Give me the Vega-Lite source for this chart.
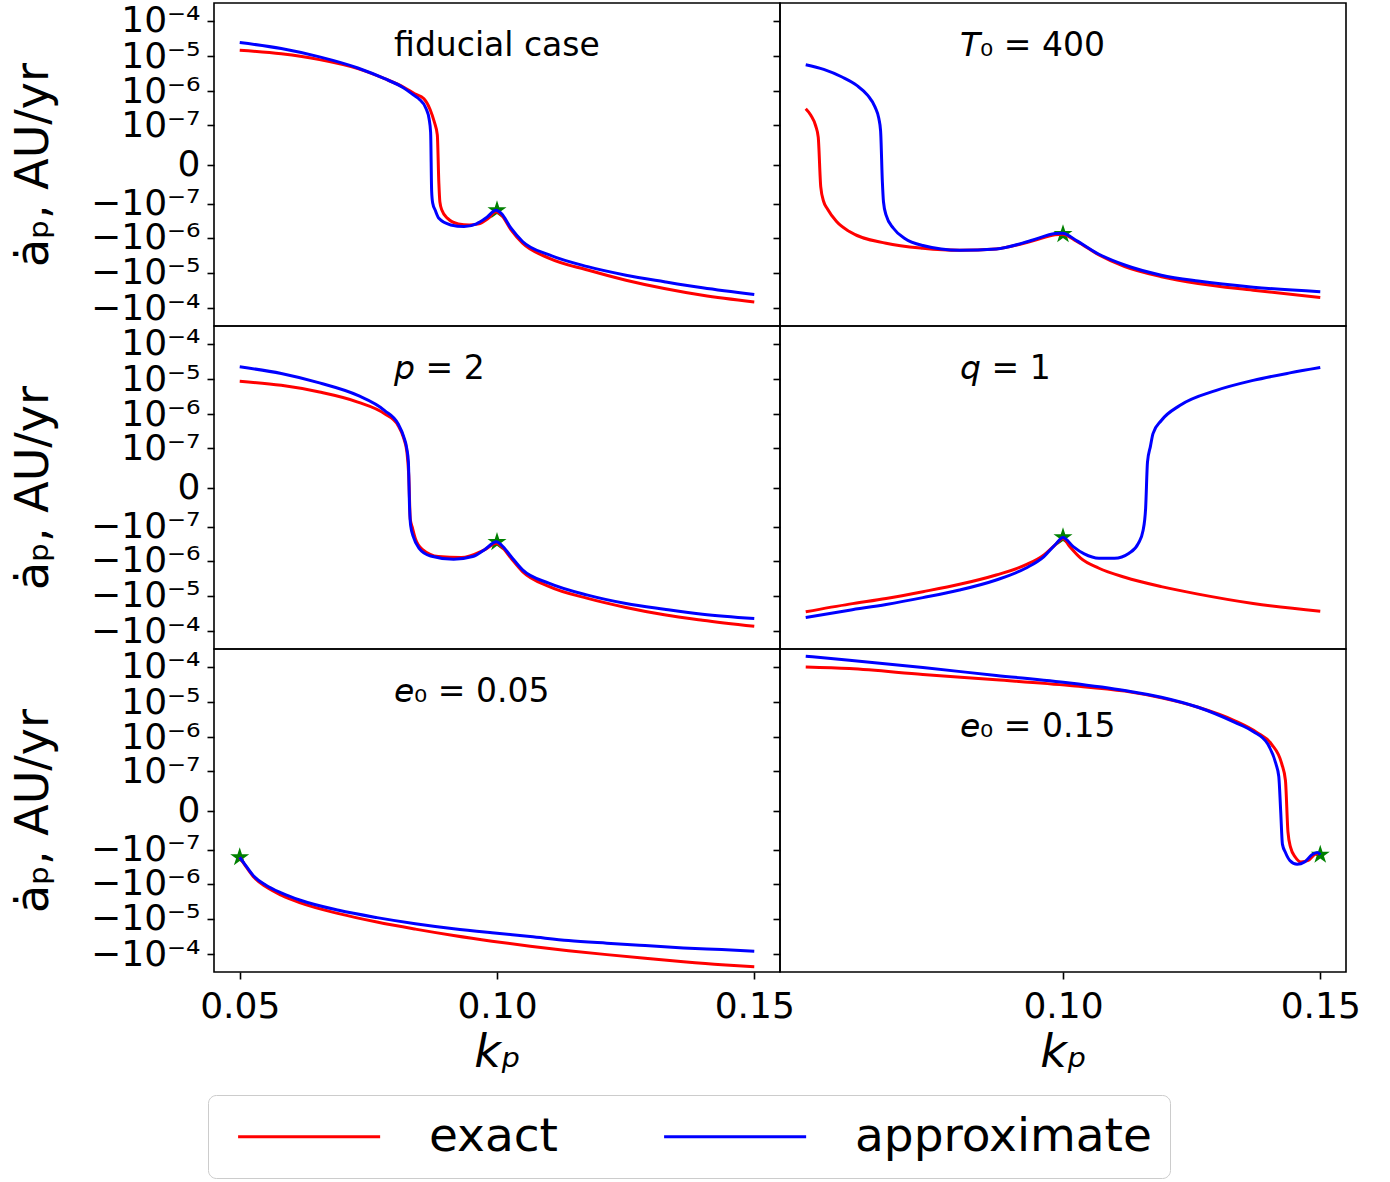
{
  "$schema": "https://vega.github.io/schema/vega-lite/v6.json",
  "padding": {"left": 9, "top": 2, "right": 30, "bottom": 2},
  "background": "white",
  "config": {
    "font": "DejaVu Sans",
    "view": {"stroke": "black", "strokeWidth": 1.6},
    "axis": {"grid": false, "domain": false, "tickColor": "black", "tickWidth": 1.6, "tickSize": 7, "labelColor": "black", "titleColor": "black", "labelFontSize": 36, "titleFontSize": 46, "titleFontWeight": "normal", "labelOverlap": false, "labelFlush": false, "labelFont": "DejaVu Sans", "titleFont": "DejaVu Sans"},
    "legend": {"labelFont": "DejaVu Sans", "labelFontSize": 47, "labelColor": "black", "symbolStrokeWidth": 3, "strokeColor": "#cccccc", "fillColor": "white", "cornerRadius": 8, "labelLimit": 0}
  },
  "datasets": {
    "fid": [
      {"series": "exact", "kp": 0.05, "adot": 1.47e-5}, {"series": "exact", "kp": 0.05807, "adot": 1.16e-5}, {"series": "exact", "kp": 0.0655, "adot": 7.94e-6}, {"series": "exact", "kp": 0.07295, "adot": 4.4e-6}, {"series": "exact", "kp": 0.07817, "adot": 2.28e-6}, {"series": "exact", "kp": 0.08188, "adot": 1.3e-6}, {"series": "exact", "kp": 0.0840, "adot": 8.5e-7}, {"series": "exact", "kp": 0.0858, "adot": 6.1e-7}, {"series": "exact", "kp": 0.0870, "adot": 3.0e-7}, {"series": "exact", "kp": 0.0878, "adot": 1.3e-7}, {"series": "exact", "kp": 0.0884, "adot": 5e-8}, {"series": "exact", "kp": 0.0887, "adot": -2e-8}, {"series": "exact", "kp": 0.0889, "adot": -9e-8}, {"series": "exact", "kp": 0.0893, "adot": -1.6e-7}, {"series": "exact", "kp": 0.0904, "adot": -2.77e-7}, {"series": "exact", "kp": 0.0925, "adot": -4.0e-7}, {"series": "exact", "kp": 0.0946, "adot": -4.3e-7}, {"series": "exact", "kp": 0.0965, "adot": -4.0e-7}, {"series": "exact", "kp": 0.0983, "adot": -2.77e-7}, {"series": "exact", "kp": 0.0998, "adot": -1.78e-7}, {"series": "exact", "kp": 0.10087, "adot": -2.23e-7}, {"series": "exact", "kp": 0.10273, "adot": -5.98e-7}, {"series": "exact", "kp": 0.10497, "adot": -1.44e-6}, {"series": "exact", "kp": 0.11018, "adot": -3.85e-6}, {"series": "exact", "kp": 0.11762, "adot": -8.3e-6}, {"series": "exact", "kp": 0.12506, "adot": -1.61e-5}, {"series": "exact", "kp": 0.13251, "adot": -2.77e-5}, {"series": "exact", "kp": 0.13994, "adot": -4.3e-5}, {"series": "exact", "kp": 0.15, "adot": -6.65e-5},
      {"series": "approximate", "kp": 0.05, "adot": 2.43e-5}, {"series": "approximate", "kp": 0.05807, "adot": 1.64e-5}, {"series": "approximate", "kp": 0.0655, "adot": 9.5e-6}, {"series": "approximate", "kp": 0.07295, "adot": 4.6e-6}, {"series": "approximate", "kp": 0.07817, "adot": 2.28e-6}, {"series": "approximate", "kp": 0.08188, "adot": 1.25e-6}, {"series": "approximate", "kp": 0.0838, "adot": 7.8e-7}, {"series": "approximate", "kp": 0.0848, "adot": 6.1e-7}, {"series": "approximate", "kp": 0.0862, "adot": 3.2e-7}, {"series": "approximate", "kp": 0.0868, "adot": 1.6e-7}, {"series": "approximate", "kp": 0.0871, "adot": 6e-8}, {"series": "approximate", "kp": 0.0873, "adot": -4e-8}, {"series": "approximate", "kp": 0.0875, "adot": -9.7e-8}, {"series": "approximate", "kp": 0.0880, "adot": -1.6e-7}, {"series": "approximate", "kp": 0.0887, "adot": -2.77e-7}, {"series": "approximate", "kp": 0.0910, "adot": -4.3e-7}, {"series": "approximate", "kp": 0.0936, "adot": -4.8e-7}, {"series": "approximate", "kp": 0.0960, "adot": -4.0e-7}, {"series": "approximate", "kp": 0.0980, "adot": -2.6e-7}, {"series": "approximate", "kp": 0.0998, "adot": -1.61e-7}, {"series": "approximate", "kp": 0.10087, "adot": -2.0e-7}, {"series": "approximate", "kp": 0.10273, "adot": -5.35e-7}, {"series": "approximate", "kp": 0.10497, "adot": -1.28e-6}, {"series": "approximate", "kp": 0.11018, "adot": -3.1e-6}, {"series": "approximate", "kp": 0.11762, "adot": -6.65e-6}, {"series": "approximate", "kp": 0.12506, "adot": -1.16e-5}, {"series": "approximate", "kp": 0.13251, "adot": -1.78e-5}, {"series": "approximate", "kp": 0.13994, "adot": -2.65e-5}, {"series": "approximate", "kp": 0.15, "adot": -4.11e-5}
    ],
    "t0": [
      {"series": "exact", "kp": 0.05, "adot": 3.16e-7}, {"series": "exact", "kp": 0.05099, "adot": 2.04e-7}, {"series": "exact", "kp": 0.05193, "adot": 9.8e-8}, {"series": "exact", "kp": 0.05243, "adot": 4.2e-8}, {"series": "exact", "kp": 0.05292, "adot": -2.8e-8}, {"series": "exact", "kp": 0.0535, "adot": -8.8e-8}, {"series": "exact", "kp": 0.0542, "adot": -1.44e-7}, {"series": "exact", "kp": 0.05599, "adot": -3.44e-7}, {"series": "exact", "kp": 0.05848, "adot": -6.65e-7}, {"series": "exact", "kp": 0.06562, "adot": -1.44e-6}, {"series": "exact", "kp": 0.07276, "adot": -2.0e-6}, {"series": "exact", "kp": 0.0799, "adot": -2.28e-6}, {"series": "exact", "kp": 0.08702, "adot": -2.09e-6}, {"series": "exact", "kp": 0.09415, "adot": -1.23e-6}, {"series": "exact", "kp": 0.09843, "adot": -8.2e-7}, {"series": "exact", "kp": 0.0999, "adot": -7.9e-7}, {"series": "exact", "kp": 0.10271, "adot": -1.28e-6}, {"series": "exact", "kp": 0.10699, "adot": -3.1e-6}, {"series": "exact", "kp": 0.11199, "adot": -6.65e-6}, {"series": "exact", "kp": 0.11911, "adot": -1.28e-5}, {"series": "exact", "kp": 0.12625, "adot": -2.0e-5}, {"series": "exact", "kp": 0.13695, "adot": -3.1e-5}, {"series": "exact", "kp": 0.15, "adot": -5.0e-5},
      {"series": "approximate", "kp": 0.05, "adot": 5.7e-6}, {"series": "approximate", "kp": 0.0535, "adot": 4.2e-6}, {"series": "approximate", "kp": 0.05706, "adot": 2.55e-6}, {"series": "approximate", "kp": 0.05992, "adot": 1.47e-6}, {"series": "approximate", "kp": 0.06206, "adot": 7.6e-7}, {"series": "approximate", "kp": 0.06348, "adot": 3.5e-7}, {"series": "approximate", "kp": 0.0642, "adot": 1.64e-7}, {"series": "approximate", "kp": 0.06455, "adot": 6.75e-8}, {"series": "approximate", "kp": 0.0649, "adot": -1.9e-8}, {"series": "approximate", "kp": 0.06511, "adot": -8.8e-8}, {"series": "approximate", "kp": 0.06562, "adot": -2.23e-7}, {"series": "approximate", "kp": 0.06704, "adot": -5.35e-7}, {"series": "approximate", "kp": 0.06918, "adot": -1.03e-6}, {"series": "approximate", "kp": 0.07276, "adot": -1.67e-6}, {"series": "approximate", "kp": 0.0799, "adot": -2.28e-6}, {"series": "approximate", "kp": 0.08702, "adot": -2.09e-6}, {"series": "approximate", "kp": 0.09415, "adot": -1.16e-6}, {"series": "approximate", "kp": 0.09843, "adot": -7.6e-7}, {"series": "approximate", "kp": 0.0999, "adot": -7.4e-7}, {"series": "approximate", "kp": 0.10271, "adot": -1.23e-6}, {"series": "approximate", "kp": 0.10699, "adot": -2.96e-6}, {"series": "approximate", "kp": 0.11199, "adot": -5.98e-6}, {"series": "approximate", "kp": 0.11911, "adot": -1.16e-5}, {"series": "approximate", "kp": 0.12625, "adot": -1.71e-5}, {"series": "approximate", "kp": 0.13695, "adot": -2.55e-5}, {"series": "approximate", "kp": 0.15, "adot": -3.44e-5}
    ],
    "p2": [
      {"series": "exact", "kp": 0.05, "adot": 8.65e-6}, {"series": "exact", "kp": 0.05807, "adot": 6.65e-6}, {"series": "exact", "kp": 0.0655, "adot": 4.3e-6}, {"series": "exact", "kp": 0.07295, "adot": 2.23e-6}, {"series": "exact", "kp": 0.07817, "adot": 1.03e-6}, {"series": "exact", "kp": 0.08077, "adot": 4.79e-7}, {"series": "exact", "kp": 0.08188, "adot": 2.0e-7}, {"series": "exact", "kp": 0.08248, "adot": 8e-8}, {"series": "exact", "kp": 0.08285, "adot": 1e-8}, {"series": "exact", "kp": 0.08315, "adot": -5.9e-8}, {"series": "exact", "kp": 0.08353, "adot": -1.05e-7}, {"series": "exact", "kp": 0.08412, "adot": -2.27e-7}, {"series": "exact", "kp": 0.08561, "adot": -4.9e-7}, {"series": "exact", "kp": 0.08859, "adot": -7.6e-7}, {"series": "exact", "kp": 0.09305, "adot": -8.1e-7}, {"series": "exact", "kp": 0.09752, "adot": -4.9e-7}, {"series": "exact", "kp": 0.0999, "adot": -3.16e-7}, {"series": "exact", "kp": 0.10087, "adot": -3.93e-7}, {"series": "exact", "kp": 0.10273, "adot": -8.5e-7}, {"series": "exact", "kp": 0.10497, "adot": -2.04e-6}, {"series": "exact", "kp": 0.11018, "adot": -5.46e-6}, {"series": "exact", "kp": 0.11762, "adot": -1.18e-5}, {"series": "exact", "kp": 0.12506, "adot": -2.13e-5}, {"series": "exact", "kp": 0.13251, "adot": -3.44e-5}, {"series": "exact", "kp": 0.13994, "adot": -4.9e-5}, {"series": "exact", "kp": 0.15, "adot": -7.3e-5},
      {"series": "approximate", "kp": 0.05, "adot": 2.23e-5}, {"series": "approximate", "kp": 0.05807, "adot": 1.44e-5}, {"series": "approximate", "kp": 0.0655, "adot": 7.8e-6}, {"series": "approximate", "kp": 0.07295, "adot": 3.44e-6}, {"series": "approximate", "kp": 0.07817, "adot": 1.28e-6}, {"series": "approximate", "kp": 0.08077, "adot": 5.35e-7}, {"series": "approximate", "kp": 0.08188, "adot": 2.23e-7}, {"series": "approximate", "kp": 0.08248, "adot": 9.7e-8}, {"series": "approximate", "kp": 0.08278, "adot": 3.6e-8}, {"series": "approximate", "kp": 0.08301, "adot": -2.4e-8}, {"series": "approximate", "kp": 0.08322, "adot": -9.4e-8}, {"series": "approximate", "kp": 0.08375, "adot": -2.04e-7}, {"series": "approximate", "kp": 0.08486, "adot": -4.4e-7}, {"series": "approximate", "kp": 0.08709, "adot": -7.3e-7}, {"series": "approximate", "kp": 0.09157, "adot": -9.06e-7}, {"series": "approximate", "kp": 0.09528, "adot": -7.6e-7}, {"series": "approximate", "kp": 0.09752, "adot": -4.9e-7}, {"series": "approximate", "kp": 0.0999, "adot": -2.83e-7}, {"series": "approximate", "kp": 0.10087, "adot": -3.54e-7}, {"series": "approximate", "kp": 0.10273, "adot": -7.6e-7}, {"series": "approximate", "kp": 0.10497, "adot": -1.83e-6}, {"series": "approximate", "kp": 0.11018, "adot": -4.4e-6}, {"series": "approximate", "kp": 0.11762, "adot": -9.5e-6}, {"series": "approximate", "kp": 0.12506, "adot": -1.64e-5}, {"series": "approximate", "kp": 0.13251, "adot": -2.38e-5}, {"series": "approximate", "kp": 0.13994, "adot": -3.31e-5}, {"series": "approximate", "kp": 0.15, "adot": -4.4e-5}
    ],
    "q1": [
      {"series": "exact", "kp": 0.05, "adot": -2.82e-5}, {"series": "exact", "kp": 0.05848, "adot": -1.71e-5}, {"series": "exact", "kp": 0.06562, "adot": -1.18e-5}, {"series": "exact", "kp": 0.07276, "adot": -7.6e-6}, {"series": "exact", "kp": 0.0799, "adot": -4.7e-6}, {"series": "exact", "kp": 0.08702, "adot": -2.55e-6}, {"series": "exact", "kp": 0.09273, "adot": -1.32e-6}, {"series": "exact", "kp": 0.0963, "adot": -6.8e-7}, {"series": "exact", "kp": 0.09843, "adot": -3.54e-7}, {"series": "exact", "kp": 0.1, "adot": -2.27e-7}, {"series": "exact", "kp": 0.1013, "adot": -3.93e-7}, {"series": "exact", "kp": 0.10343, "adot": -8.5e-7}, {"series": "exact", "kp": 0.10699, "adot": -1.64e-6}, {"series": "exact", "kp": 0.11199, "adot": -2.96e-6}, {"series": "exact", "kp": 0.11911, "adot": -5.46e-6}, {"series": "exact", "kp": 0.12625, "adot": -8.9e-6}, {"series": "exact", "kp": 0.13695, "adot": -1.64e-5}, {"series": "exact", "kp": 0.15, "adot": -2.72e-5},
      {"series": "approximate", "kp": 0.05, "adot": -4.11e-5}, {"series": "approximate", "kp": 0.05848, "adot": -2.55e-5}, {"series": "approximate", "kp": 0.06562, "adot": -1.75e-5}, {"series": "approximate", "kp": 0.07276, "adot": -1.12e-5}, {"series": "approximate", "kp": 0.0799, "adot": -6.82e-6}, {"series": "approximate", "kp": 0.08702, "adot": -3.54e-6}, {"series": "approximate", "kp": 0.09273, "adot": -1.64e-6}, {"series": "approximate", "kp": 0.0963, "adot": -7.6e-7}, {"series": "approximate", "kp": 0.09843, "adot": -3.54e-7}, {"series": "approximate", "kp": 0.1, "adot": -2.13e-7}, {"series": "approximate", "kp": 0.10199, "adot": -3.93e-7}, {"series": "approximate", "kp": 0.10413, "adot": -6.4e-7}, {"series": "approximate", "kp": 0.10699, "adot": -8.5e-7}, {"series": "approximate", "kp": 0.11, "adot": -8.5e-7}, {"series": "approximate", "kp": 0.11284, "adot": -6.1e-7}, {"series": "approximate", "kp": 0.11464, "adot": -3.16e-7}, {"series": "approximate", "kp": 0.11556, "adot": -1.32e-7}, {"series": "approximate", "kp": 0.11606, "adot": -2.4e-8}, {"series": "approximate", "kp": 0.11642, "adot": 3.6e-8}, {"series": "approximate", "kp": 0.11699, "adot": 1.16e-7}, {"series": "approximate", "kp": 0.11749, "adot": 2.77e-7}, {"series": "approximate", "kp": 0.11911, "adot": 6.65e-7}, {"series": "approximate", "kp": 0.12269, "adot": 1.78e-6}, {"series": "approximate", "kp": 0.1298, "adot": 4.79e-6}, {"series": "approximate", "kp": 0.13695, "adot": 9.2e-6}, {"series": "approximate", "kp": 0.14409, "adot": 1.5e-5}, {"series": "approximate", "kp": 0.15, "adot": 2.13e-5}
    ],
    "e05": [
      {"series": "exact", "kp": 0.05, "adot": -1.71e-7}, {"series": "exact", "kp": 0.05136, "adot": -3.44e-7}, {"series": "exact", "kp": 0.05286, "adot": -6.78e-7}, {"series": "exact", "kp": 0.0551, "adot": -1.23e-6}, {"series": "exact", "kp": 0.05807, "adot": -2.13e-6}, {"series": "exact", "kp": 0.06179, "adot": -3.52e-6}, {"series": "exact", "kp": 0.06924, "adot": -7.1e-6}, {"series": "exact", "kp": 0.07667, "adot": -1.23e-5}, {"series": "exact", "kp": 0.08412, "adot": -1.95e-5}, {"series": "exact", "kp": 0.09157, "adot": -2.96e-5}, {"series": "exact", "kp": 0.09902, "adot": -4.28e-5}, {"series": "exact", "kp": 0.10645, "adot": -5.94e-5}, {"series": "exact", "kp": 0.1139, "adot": -7.94e-5}, {"series": "exact", "kp": 0.12135, "adot": -1.03e-4}, {"series": "exact", "kp": 0.12878, "adot": -1.31e-4}, {"series": "exact", "kp": 0.13623, "adot": -1.64e-4}, {"series": "exact", "kp": 0.14368, "adot": -2.0e-4}, {"series": "exact", "kp": 0.15, "adot": -2.28e-4},
      {"series": "approximate", "kp": 0.05, "adot": -1.71e-7}, {"series": "approximate", "kp": 0.05136, "adot": -3.29e-7}, {"series": "approximate", "kp": 0.05286, "adot": -6.35e-7}, {"series": "approximate", "kp": 0.0551, "adot": -1.1e-6}, {"series": "approximate", "kp": 0.05807, "adot": -1.82e-6}, {"series": "approximate", "kp": 0.06179, "adot": -2.96e-6}, {"series": "approximate", "kp": 0.06924, "adot": -5.71e-6}, {"series": "approximate", "kp": 0.07667, "adot": -9.2e-6}, {"series": "approximate", "kp": 0.08412, "adot": -1.37e-5}, {"series": "approximate", "kp": 0.09157, "adot": -1.9e-5}, {"series": "approximate", "kp": 0.09902, "adot": -2.48e-5}, {"series": "approximate", "kp": 0.10645, "adot": -3.16e-5}, {"series": "approximate", "kp": 0.1139, "adot": -4.11e-5}, {"series": "approximate", "kp": 0.12135, "adot": -4.89e-5}, {"series": "approximate", "kp": 0.12878, "adot": -5.71e-5}, {"series": "approximate", "kp": 0.13623, "adot": -6.65e-5}, {"series": "approximate", "kp": 0.14368, "adot": -7.43e-5}, {"series": "approximate", "kp": 0.15, "adot": -8.26e-5}
    ],
    "e15": [
      {"series": "exact", "kp": 0.05, "adot": 9.9e-5}, {"series": "exact", "kp": 0.05848, "adot": 8.9e-5}, {"series": "exact", "kp": 0.07276, "adot": 6.1e-5}, {"series": "exact", "kp": 0.08702, "adot": 4.3e-5}, {"series": "exact", "kp": 0.1013, "adot": 2.96e-5}, {"series": "exact", "kp": 0.11199, "adot": 2.05e-5}, {"series": "exact", "kp": 0.11911, "adot": 1.32e-5}, {"series": "exact", "kp": 0.12625, "adot": 7.15e-6}, {"series": "exact", "kp": 0.13339, "adot": 2.96e-6}, {"series": "exact", "kp": 0.13767, "adot": 1.38e-6}, {"series": "exact", "kp": 0.14051, "adot": 6.4e-7}, {"series": "exact", "kp": 0.14251, "adot": 1.71e-7}, {"series": "exact", "kp": 0.14323, "adot": 5.2e-8}, {"series": "exact", "kp": 0.14372, "adot": -2.6e-8}, {"series": "exact", "kp": 0.14423, "adot": -8.6e-8}, {"series": "exact", "kp": 0.14516, "adot": -1.71e-7}, {"series": "exact", "kp": 0.14622, "adot": -2.37e-7}, {"series": "exact", "kp": 0.14765, "adot": -2.13e-7}, {"series": "exact", "kp": 0.14907, "adot": -1.37e-7}, {"series": "exact", "kp": 0.14978, "adot": -1.31e-7},
      {"series": "approximate", "kp": 0.05, "adot": 2.0e-4}, {"series": "approximate", "kp": 0.05848, "adot": 1.53e-4}, {"series": "approximate", "kp": 0.07276, "adot": 9.5e-5}, {"series": "approximate", "kp": 0.08702, "adot": 5.71e-5}, {"series": "approximate", "kp": 0.1013, "adot": 3.47e-5}, {"series": "approximate", "kp": 0.11199, "adot": 2.13e-5}, {"series": "approximate", "kp": 0.11911, "adot": 1.38e-5}, {"series": "approximate", "kp": 0.12625, "adot": 7.15e-6}, {"series": "approximate", "kp": 0.13339, "adot": 2.67e-6}, {"series": "approximate", "kp": 0.13695, "adot": 1.47e-6}, {"series": "approximate", "kp": 0.1398, "adot": 6.4e-7}, {"series": "approximate", "kp": 0.14137, "adot": 1.71e-7}, {"series": "approximate", "kp": 0.14194, "adot": 6.9e-8}, {"series": "approximate", "kp": 0.1423, "adot": 0}, {"series": "approximate", "kp": 0.14265, "adot": -6.9e-8}, {"series": "approximate", "kp": 0.14323, "adot": -1.23e-7}, {"series": "approximate", "kp": 0.14409, "adot": -2.13e-7}, {"series": "approximate", "kp": 0.14551, "adot": -2.77e-7}, {"series": "approximate", "kp": 0.14694, "adot": -2.37e-7}, {"series": "approximate", "kp": 0.14837, "adot": -1.44e-7}, {"series": "approximate", "kp": 0.14943, "adot": -1.23e-7}, {"series": "approximate", "kp": 0.15, "adot": -1.44e-7}
    ],
    "stars": [
      {"panel": "fid", "kp": 0.1, "adot": -1.6e-7}, {"panel": "t0", "kp": 0.1, "adot": -7.9e-7}, {"panel": "p2", "kp": 0.1, "adot": -2.9e-7}, {"panel": "q1", "kp": 0.1, "adot": -2.1e-7}, {"panel": "e05", "kp": 0.05, "adot": -1.71e-7}, {"panel": "e15", "kp": 0.15, "adot": -1.44e-7}
    ]
  },
  "columns": 2,
  "spacing": 0,
  "bounds": "flush",
  "resolve": {"scale": {"color": "shared"}, "legend": {"color": "shared"}},
  "concat": [
    {
      "width": 566, "height": 323,
      "layer": [
        {
          "encoding": {
            "x": {"field": "kp", "type": "quantitative", "scale": {"domain": [0.045, 0.155], "nice": false, "zero": false}, "axis": null},
            "y": {"field": "adot", "type": "quantitative", "scale": {"type": "symlog", "constant": 8.5e-9, "domain": [-3.2e-4, 3.2e-4], "nice": false, "zero": false},
                  "axis": {"values": [-1e-4, -1e-5, -1e-6, -1e-7, 0, 1e-7, 1e-6, 1e-5, 1e-4], "labelExpr": "datum.value == 0 ? '0' : (datum.value < 0 ? '−' : '') + '10⁻' + (abs(datum.value) > 5e-5 ? '⁴' : abs(datum.value) > 5e-6 ? '⁵' : abs(datum.value) > 5e-7 ? '⁶' : '⁷')", "title": "ȧₚ, AU/yr", "labelPadding": 7, "titlePadding": 33}}
          },
          "layer": [
            {"data": {"name": "stars"}, "transform": [{"filter": "datum.panel == 'fid'"}], "mark": {"type": "point", "shape": "M0,-1L0.2245,-0.309L0.9511,-0.309L0.3633,0.118L0.5878,0.809L0,0.382L-0.5878,0.809L-0.3633,0.118L-0.9511,-0.309L-0.2245,-0.309Z", "filled": true, "size": 400, "color": "#008000", "opacity": 1}},
            {"data": {"name": "fid"}, "transform": [{"filter": "datum.series == 'exact'"}], "mark": {"type": "line", "strokeWidth": 3, "interpolate": "monotone"}, "encoding": {"color": {"field": "series", "type": "nominal", "scale": {"domain": ["exact", "approximate"], "range": ["#ff0000", "#0000ff"]}, "legend": {"orient": "none", "legendX": -6, "legendY": 1092, "direction": "horizontal", "title": null, "symbolType": "M-0.803,0H9.197", "symbolSize": 807, "labelOffset": 156, "columnPadding": 94, "padding": 18}}}},
            {"data": {"name": "fid"}, "transform": [{"filter": "datum.series == 'approximate'"}], "mark": {"type": "line", "strokeWidth": 3, "interpolate": "monotone"}, "encoding": {"color": {"field": "series", "type": "nominal", "scale": {"domain": ["exact", "approximate"], "range": ["#ff0000", "#0000ff"]}, "legend": {"orient": "none", "legendX": -6, "legendY": 1092, "direction": "horizontal", "title": null, "symbolType": "M-0.803,0H9.197", "symbolSize": 807, "labelOffset": 156, "columnPadding": 94, "padding": 18}}}}
          ]
        },
        {"data": {"values": [{}]}, "mark": {"type": "text", "align": "left", "baseline": "alphabetic", "fontSize": 33, "color": "black"},
         "encoding": {"x": {"datum": 0.08, "type": "quantitative", "scale": {"domain": [0.045, 0.155], "nice": false, "zero": false}, "axis": null},
                      "y": {"datum": 1e-5, "type": "quantitative", "scale": {"type": "symlog", "constant": 8.5e-9, "domain": [-3.2e-4, 3.2e-4], "nice": false, "zero": false}, "axis": {"values": [-1e-4, -1e-5, -1e-6, -1e-7, 0, 1e-7, 1e-6, 1e-5, 1e-4], "labelExpr": "datum.value == 0 ? '0' : (datum.value < 0 ? '−' : '') + '10⁻' + (abs(datum.value) > 5e-5 ? '⁴' : abs(datum.value) > 5e-6 ? '⁵' : abs(datum.value) > 5e-7 ? '⁶' : '⁷')", "title": "ȧₚ, AU/yr", "labelPadding": 7, "titlePadding": 33}},
                      "text": {"value": "fiducial case"}}}
      ]
    },
    {
      "width": 566, "height": 323,
      "layer": [
        {
          "encoding": {
            "x": {"field": "kp", "type": "quantitative", "scale": {"domain": [0.045, 0.155], "nice": false, "zero": false}, "axis": null},
            "y": {"field": "adot", "type": "quantitative", "scale": {"type": "symlog", "constant": 8.5e-9, "domain": [-3.2e-4, 3.2e-4], "nice": false, "zero": false},
                  "axis": {"values": [-1e-4, -1e-5, -1e-6, -1e-7, 0, 1e-7, 1e-6, 1e-5, 1e-4], "labels": false, "title": null}}
          },
          "layer": [
            {"data": {"name": "stars"}, "transform": [{"filter": "datum.panel == 't0'"}], "mark": {"type": "point", "shape": "M0,-1L0.2245,-0.309L0.9511,-0.309L0.3633,0.118L0.5878,0.809L0,0.382L-0.5878,0.809L-0.3633,0.118L-0.9511,-0.309L-0.2245,-0.309Z", "filled": true, "size": 400, "color": "#008000", "opacity": 1}},
            {"data": {"name": "t0"}, "transform": [{"filter": "datum.series == 'exact'"}], "mark": {"type": "line", "strokeWidth": 3, "interpolate": "monotone"}, "encoding": {"color": {"field": "series", "type": "nominal", "scale": {"domain": ["exact", "approximate"], "range": ["#ff0000", "#0000ff"]}, "legend": {"orient": "none", "legendX": -6, "legendY": 1092, "direction": "horizontal", "title": null, "symbolType": "M-0.803,0H9.197", "symbolSize": 807, "labelOffset": 156, "columnPadding": 94, "padding": 18}}}},
            {"data": {"name": "t0"}, "transform": [{"filter": "datum.series == 'approximate'"}], "mark": {"type": "line", "strokeWidth": 3, "interpolate": "monotone"}, "encoding": {"color": {"field": "series", "type": "nominal", "scale": {"domain": ["exact", "approximate"], "range": ["#ff0000", "#0000ff"]}, "legend": {"orient": "none", "legendX": -6, "legendY": 1092, "direction": "horizontal", "title": null, "symbolType": "M-0.803,0H9.197", "symbolSize": 807, "labelOffset": 156, "columnPadding": 94, "padding": 18}}}}
          ]
        },
        {"data": {"values": [{}]}, "mark": {"type": "text", "align": "left", "baseline": "alphabetic", "fontSize": 33, "color": "black"},
         "encoding": {"x": {"datum": 0.08, "type": "quantitative", "scale": {"domain": [0.045, 0.155], "nice": false, "zero": false}, "axis": null},
                      "y": {"datum": 1e-5, "type": "quantitative", "scale": {"type": "symlog", "constant": 8.5e-9, "domain": [-3.2e-4, 3.2e-4], "nice": false, "zero": false}, "axis": {"values": [-1e-4, -1e-5, -1e-6, -1e-7, 0, 1e-7, 1e-6, 1e-5, 1e-4], "labels": false, "title": null}},
                      "text": {"value": "𝘛₀ = 400"}}}
      ]
    },
    {
      "width": 566, "height": 323,
      "layer": [
        {
          "encoding": {
            "x": {"field": "kp", "type": "quantitative", "scale": {"domain": [0.045, 0.155], "nice": false, "zero": false}, "axis": null},
            "y": {"field": "adot", "type": "quantitative", "scale": {"type": "symlog", "constant": 8.5e-9, "domain": [-3.2e-4, 3.2e-4], "nice": false, "zero": false},
                  "axis": {"values": [-1e-4, -1e-5, -1e-6, -1e-7, 0, 1e-7, 1e-6, 1e-5, 1e-4], "labelExpr": "datum.value == 0 ? '0' : (datum.value < 0 ? '−' : '') + '10⁻' + (abs(datum.value) > 5e-5 ? '⁴' : abs(datum.value) > 5e-6 ? '⁵' : abs(datum.value) > 5e-7 ? '⁶' : '⁷')", "title": "ȧₚ, AU/yr", "labelPadding": 7, "titlePadding": 33}}
          },
          "layer": [
            {"data": {"name": "stars"}, "transform": [{"filter": "datum.panel == 'p2'"}], "mark": {"type": "point", "shape": "M0,-1L0.2245,-0.309L0.9511,-0.309L0.3633,0.118L0.5878,0.809L0,0.382L-0.5878,0.809L-0.3633,0.118L-0.9511,-0.309L-0.2245,-0.309Z", "filled": true, "size": 400, "color": "#008000", "opacity": 1}},
            {"data": {"name": "p2"}, "transform": [{"filter": "datum.series == 'exact'"}], "mark": {"type": "line", "strokeWidth": 3, "interpolate": "monotone"}, "encoding": {"color": {"field": "series", "type": "nominal", "scale": {"domain": ["exact", "approximate"], "range": ["#ff0000", "#0000ff"]}, "legend": {"orient": "none", "legendX": -6, "legendY": 1092, "direction": "horizontal", "title": null, "symbolType": "M-0.803,0H9.197", "symbolSize": 807, "labelOffset": 156, "columnPadding": 94, "padding": 18}}}},
            {"data": {"name": "p2"}, "transform": [{"filter": "datum.series == 'approximate'"}], "mark": {"type": "line", "strokeWidth": 3, "interpolate": "monotone"}, "encoding": {"color": {"field": "series", "type": "nominal", "scale": {"domain": ["exact", "approximate"], "range": ["#ff0000", "#0000ff"]}, "legend": {"orient": "none", "legendX": -6, "legendY": 1092, "direction": "horizontal", "title": null, "symbolType": "M-0.803,0H9.197", "symbolSize": 807, "labelOffset": 156, "columnPadding": 94, "padding": 18}}}}
          ]
        },
        {"data": {"values": [{}]}, "mark": {"type": "text", "align": "left", "baseline": "alphabetic", "fontSize": 33, "color": "black"},
         "encoding": {"x": {"datum": 0.08, "type": "quantitative", "scale": {"domain": [0.045, 0.155], "nice": false, "zero": false}, "axis": null},
                      "y": {"datum": 1e-5, "type": "quantitative", "scale": {"type": "symlog", "constant": 8.5e-9, "domain": [-3.2e-4, 3.2e-4], "nice": false, "zero": false}, "axis": {"values": [-1e-4, -1e-5, -1e-6, -1e-7, 0, 1e-7, 1e-6, 1e-5, 1e-4], "labelExpr": "datum.value == 0 ? '0' : (datum.value < 0 ? '−' : '') + '10⁻' + (abs(datum.value) > 5e-5 ? '⁴' : abs(datum.value) > 5e-6 ? '⁵' : abs(datum.value) > 5e-7 ? '⁶' : '⁷')", "title": "ȧₚ, AU/yr", "labelPadding": 7, "titlePadding": 33}},
                      "text": {"value": "𝘱 = 2"}}}
      ]
    },
    {
      "width": 566, "height": 323,
      "layer": [
        {
          "encoding": {
            "x": {"field": "kp", "type": "quantitative", "scale": {"domain": [0.045, 0.155], "nice": false, "zero": false}, "axis": null},
            "y": {"field": "adot", "type": "quantitative", "scale": {"type": "symlog", "constant": 8.5e-9, "domain": [-3.2e-4, 3.2e-4], "nice": false, "zero": false},
                  "axis": {"values": [-1e-4, -1e-5, -1e-6, -1e-7, 0, 1e-7, 1e-6, 1e-5, 1e-4], "labels": false, "title": null}}
          },
          "layer": [
            {"data": {"name": "stars"}, "transform": [{"filter": "datum.panel == 'q1'"}], "mark": {"type": "point", "shape": "M0,-1L0.2245,-0.309L0.9511,-0.309L0.3633,0.118L0.5878,0.809L0,0.382L-0.5878,0.809L-0.3633,0.118L-0.9511,-0.309L-0.2245,-0.309Z", "filled": true, "size": 400, "color": "#008000", "opacity": 1}},
            {"data": {"name": "q1"}, "transform": [{"filter": "datum.series == 'exact'"}], "mark": {"type": "line", "strokeWidth": 3, "interpolate": "monotone"}, "encoding": {"color": {"field": "series", "type": "nominal", "scale": {"domain": ["exact", "approximate"], "range": ["#ff0000", "#0000ff"]}, "legend": {"orient": "none", "legendX": -6, "legendY": 1092, "direction": "horizontal", "title": null, "symbolType": "M-0.803,0H9.197", "symbolSize": 807, "labelOffset": 156, "columnPadding": 94, "padding": 18}}}},
            {"data": {"name": "q1"}, "transform": [{"filter": "datum.series == 'approximate'"}], "mark": {"type": "line", "strokeWidth": 3, "interpolate": "monotone"}, "encoding": {"color": {"field": "series", "type": "nominal", "scale": {"domain": ["exact", "approximate"], "range": ["#ff0000", "#0000ff"]}, "legend": {"orient": "none", "legendX": -6, "legendY": 1092, "direction": "horizontal", "title": null, "symbolType": "M-0.803,0H9.197", "symbolSize": 807, "labelOffset": 156, "columnPadding": 94, "padding": 18}}}}
          ]
        },
        {"data": {"values": [{}]}, "mark": {"type": "text", "align": "left", "baseline": "alphabetic", "fontSize": 33, "color": "black"},
         "encoding": {"x": {"datum": 0.08, "type": "quantitative", "scale": {"domain": [0.045, 0.155], "nice": false, "zero": false}, "axis": null},
                      "y": {"datum": 1e-5, "type": "quantitative", "scale": {"type": "symlog", "constant": 8.5e-9, "domain": [-3.2e-4, 3.2e-4], "nice": false, "zero": false}, "axis": {"values": [-1e-4, -1e-5, -1e-6, -1e-7, 0, 1e-7, 1e-6, 1e-5, 1e-4], "labels": false, "title": null}},
                      "text": {"value": "𝘲 = 1"}}}
      ]
    },
    {
      "width": 566, "height": 323,
      "layer": [
        {
          "encoding": {
            "x": {"field": "kp", "type": "quantitative", "scale": {"domain": [0.045, 0.155], "nice": false, "zero": false}, "axis": {"values": [0.05, 0.1, 0.15], "format": ".2f", "title": "kₚ", "titleFontStyle": "italic", "labelPadding": 10, "titlePadding": 6}},
            "y": {"field": "adot", "type": "quantitative", "scale": {"type": "symlog", "constant": 8.5e-9, "domain": [-3.2e-4, 3.2e-4], "nice": false, "zero": false},
                  "axis": {"values": [-1e-4, -1e-5, -1e-6, -1e-7, 0, 1e-7, 1e-6, 1e-5, 1e-4], "labelExpr": "datum.value == 0 ? '0' : (datum.value < 0 ? '−' : '') + '10⁻' + (abs(datum.value) > 5e-5 ? '⁴' : abs(datum.value) > 5e-6 ? '⁵' : abs(datum.value) > 5e-7 ? '⁶' : '⁷')", "title": "ȧₚ, AU/yr", "labelPadding": 7, "titlePadding": 33}}
          },
          "layer": [
            {"data": {"name": "stars"}, "transform": [{"filter": "datum.panel == 'e05'"}], "mark": {"type": "point", "shape": "M0,-1L0.2245,-0.309L0.9511,-0.309L0.3633,0.118L0.5878,0.809L0,0.382L-0.5878,0.809L-0.3633,0.118L-0.9511,-0.309L-0.2245,-0.309Z", "filled": true, "size": 400, "color": "#008000", "opacity": 1}},
            {"data": {"name": "e05"}, "transform": [{"filter": "datum.series == 'exact'"}], "mark": {"type": "line", "strokeWidth": 3, "interpolate": "monotone"}, "encoding": {"color": {"field": "series", "type": "nominal", "scale": {"domain": ["exact", "approximate"], "range": ["#ff0000", "#0000ff"]}, "legend": {"orient": "none", "legendX": -6, "legendY": 1092, "direction": "horizontal", "title": null, "symbolType": "M-0.803,0H9.197", "symbolSize": 807, "labelOffset": 156, "columnPadding": 94, "padding": 18}}}},
            {"data": {"name": "e05"}, "transform": [{"filter": "datum.series == 'approximate'"}], "mark": {"type": "line", "strokeWidth": 3, "interpolate": "monotone"}, "encoding": {"color": {"field": "series", "type": "nominal", "scale": {"domain": ["exact", "approximate"], "range": ["#ff0000", "#0000ff"]}, "legend": {"orient": "none", "legendX": -6, "legendY": 1092, "direction": "horizontal", "title": null, "symbolType": "M-0.803,0H9.197", "symbolSize": 807, "labelOffset": 156, "columnPadding": 94, "padding": 18}}}}
          ]
        },
        {"data": {"values": [{}]}, "mark": {"type": "text", "align": "left", "baseline": "alphabetic", "fontSize": 33, "color": "black"},
         "encoding": {"x": {"datum": 0.08, "type": "quantitative", "scale": {"domain": [0.045, 0.155], "nice": false, "zero": false}, "axis": {"values": [0.05, 0.1, 0.15], "format": ".2f", "title": "kₚ", "titleFontStyle": "italic", "labelPadding": 10, "titlePadding": 6}},
                      "y": {"datum": 1e-5, "type": "quantitative", "scale": {"type": "symlog", "constant": 8.5e-9, "domain": [-3.2e-4, 3.2e-4], "nice": false, "zero": false}, "axis": {"values": [-1e-4, -1e-5, -1e-6, -1e-7, 0, 1e-7, 1e-6, 1e-5, 1e-4], "labelExpr": "datum.value == 0 ? '0' : (datum.value < 0 ? '−' : '') + '10⁻' + (abs(datum.value) > 5e-5 ? '⁴' : abs(datum.value) > 5e-6 ? '⁵' : abs(datum.value) > 5e-7 ? '⁶' : '⁷')", "title": "ȧₚ, AU/yr", "labelPadding": 7, "titlePadding": 33}},
                      "text": {"value": "𝘦₀ = 0.05"}}}
      ]
    },
    {
      "width": 566, "height": 323,
      "layer": [
        {
          "encoding": {
            "x": {"field": "kp", "type": "quantitative", "scale": {"domain": [0.045, 0.155], "nice": false, "zero": false}, "axis": {"values": [0.1, 0.15], "format": ".2f", "title": "kₚ", "titleFontStyle": "italic", "labelPadding": 10, "titlePadding": 6}},
            "y": {"field": "adot", "type": "quantitative", "scale": {"type": "symlog", "constant": 8.5e-9, "domain": [-3.2e-4, 3.2e-4], "nice": false, "zero": false},
                  "axis": {"values": [-1e-4, -1e-5, -1e-6, -1e-7, 0, 1e-7, 1e-6, 1e-5, 1e-4], "labels": false, "title": null}}
          },
          "layer": [
            {"data": {"name": "stars"}, "transform": [{"filter": "datum.panel == 'e15'"}], "mark": {"type": "point", "shape": "M0,-1L0.2245,-0.309L0.9511,-0.309L0.3633,0.118L0.5878,0.809L0,0.382L-0.5878,0.809L-0.3633,0.118L-0.9511,-0.309L-0.2245,-0.309Z", "filled": true, "size": 400, "color": "#008000", "opacity": 1}},
            {"data": {"name": "e15"}, "transform": [{"filter": "datum.series == 'exact'"}], "mark": {"type": "line", "strokeWidth": 3, "interpolate": "monotone"}, "encoding": {"color": {"field": "series", "type": "nominal", "scale": {"domain": ["exact", "approximate"], "range": ["#ff0000", "#0000ff"]}, "legend": {"orient": "none", "legendX": -6, "legendY": 1092, "direction": "horizontal", "title": null, "symbolType": "M-0.803,0H9.197", "symbolSize": 807, "labelOffset": 156, "columnPadding": 94, "padding": 18}}}},
            {"data": {"name": "e15"}, "transform": [{"filter": "datum.series == 'approximate'"}], "mark": {"type": "line", "strokeWidth": 3, "interpolate": "monotone"}, "encoding": {"color": {"field": "series", "type": "nominal", "scale": {"domain": ["exact", "approximate"], "range": ["#ff0000", "#0000ff"]}, "legend": {"orient": "none", "legendX": -6, "legendY": 1092, "direction": "horizontal", "title": null, "symbolType": "M-0.803,0H9.197", "symbolSize": 807, "labelOffset": 156, "columnPadding": 94, "padding": 18}}}}
          ]
        },
        {"data": {"values": [{}]}, "mark": {"type": "text", "align": "left", "baseline": "alphabetic", "fontSize": 33, "color": "black"},
         "encoding": {"x": {"datum": 0.08, "type": "quantitative", "scale": {"domain": [0.045, 0.155], "nice": false, "zero": false}, "axis": {"values": [0.1, 0.15], "format": ".2f", "title": "kₚ", "titleFontStyle": "italic", "labelPadding": 10, "titlePadding": 6}},
                      "y": {"datum": 1e-6, "type": "quantitative", "scale": {"type": "symlog", "constant": 8.5e-9, "domain": [-3.2e-4, 3.2e-4], "nice": false, "zero": false}, "axis": {"values": [-1e-4, -1e-5, -1e-6, -1e-7, 0, 1e-7, 1e-6, 1e-5, 1e-4], "labels": false, "title": null}},
                      "text": {"value": "𝘦₀ = 0.15"}}}
      ]
    }
  ]
}
